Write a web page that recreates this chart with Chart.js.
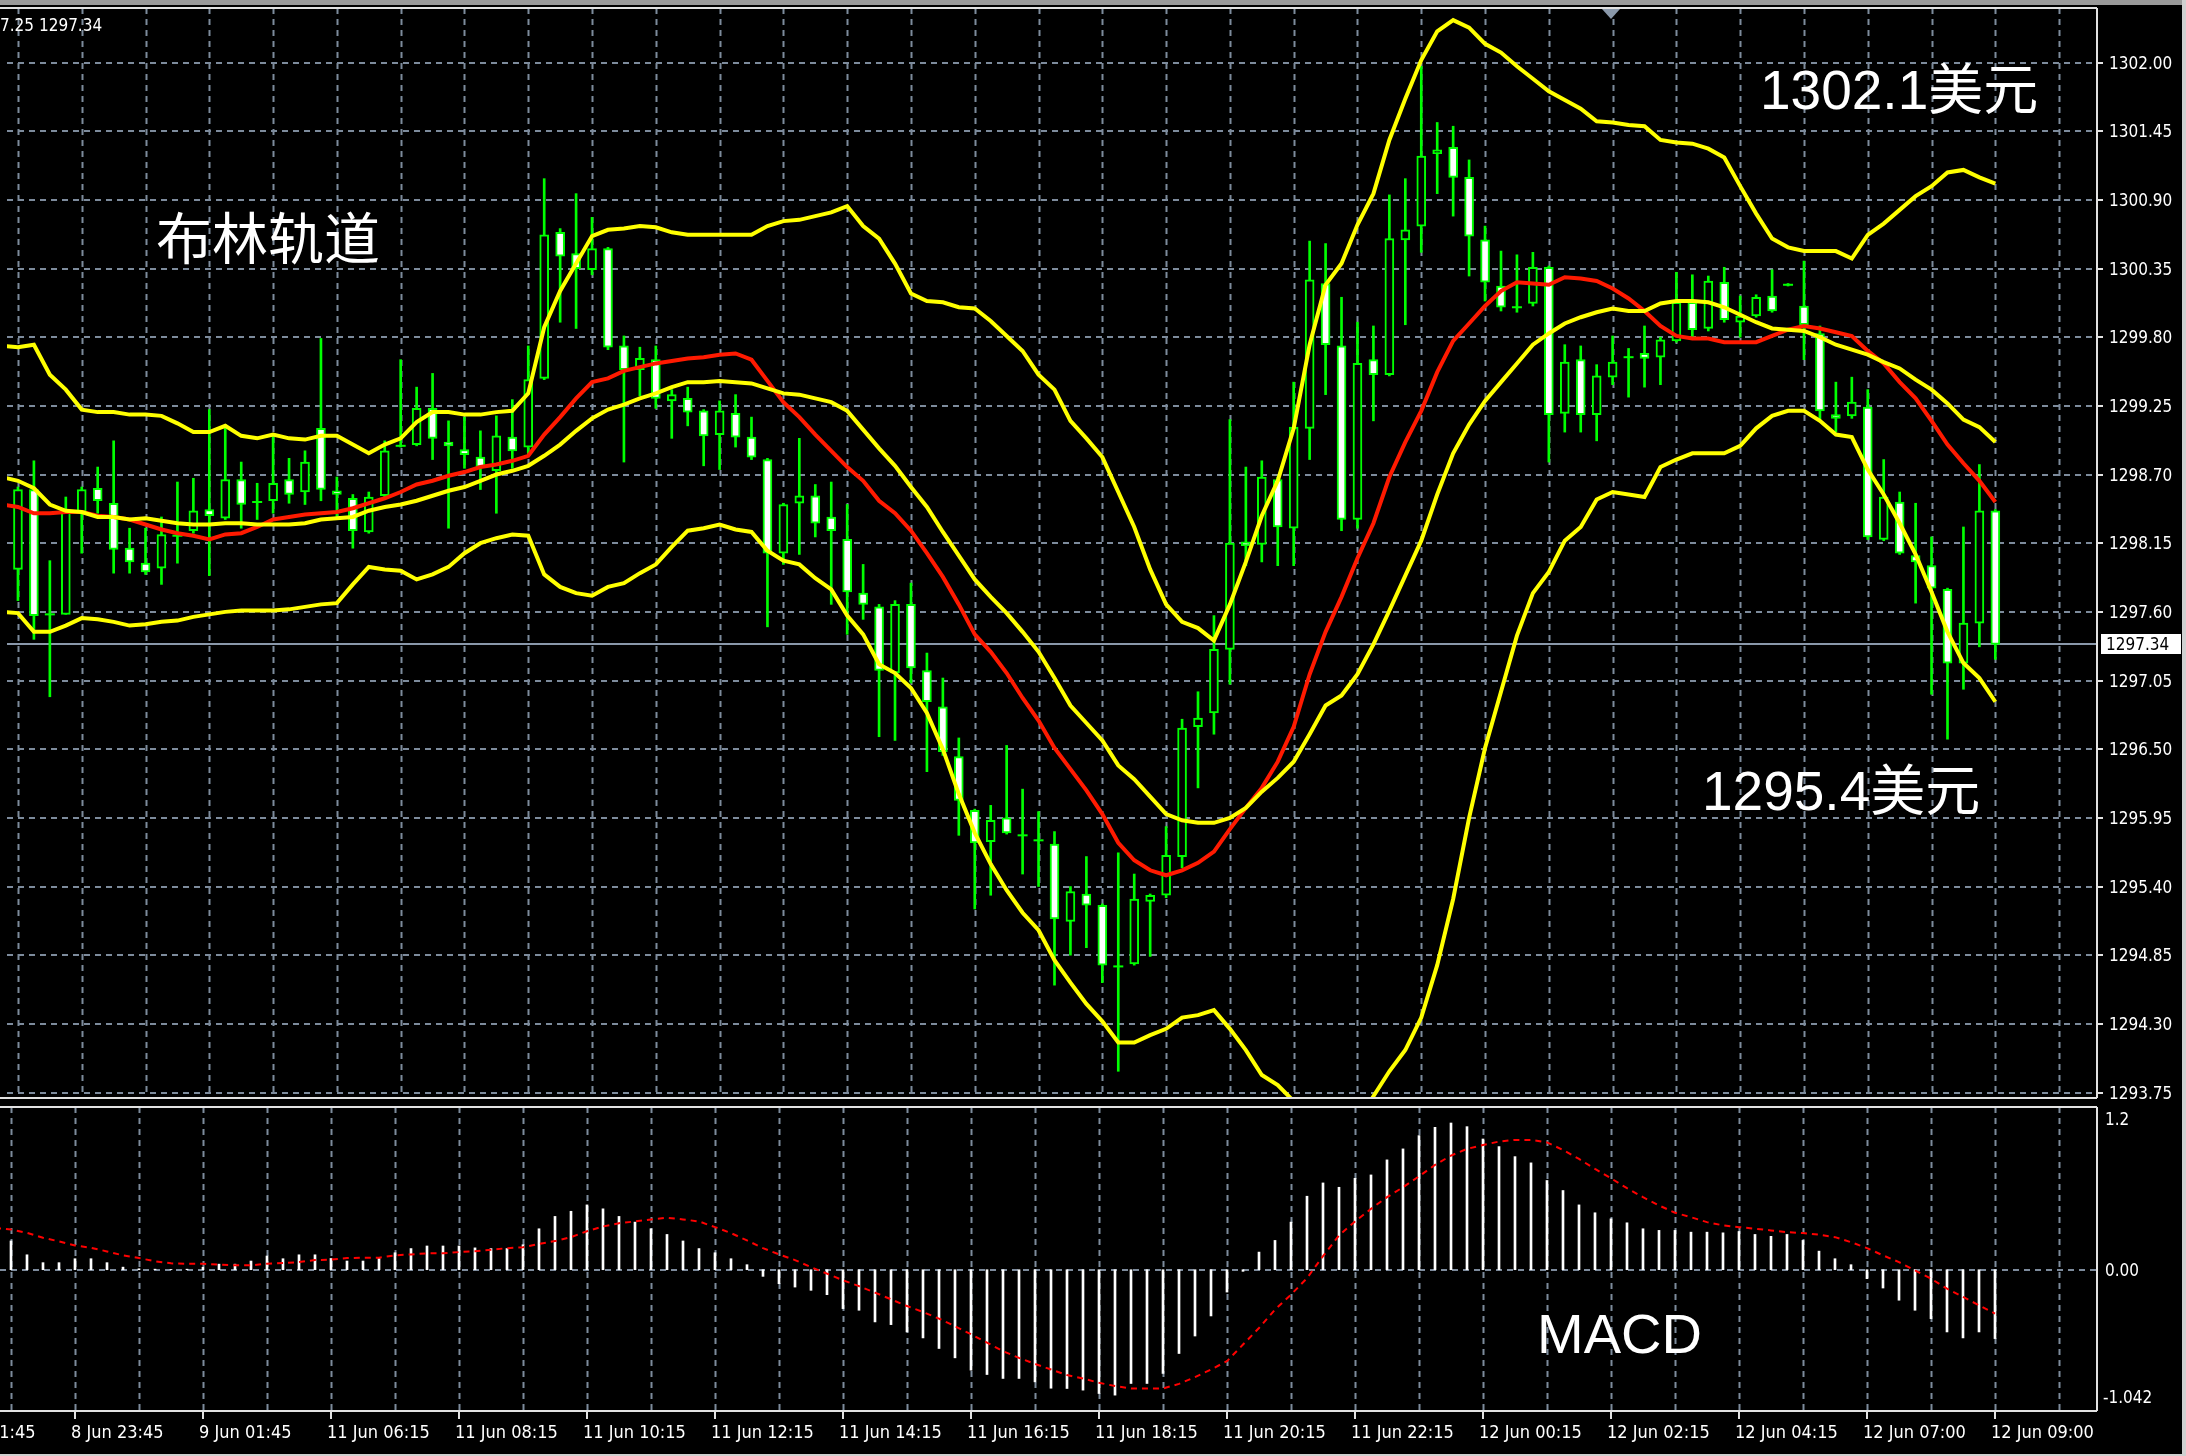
<!DOCTYPE html>
<html>
<head>
<meta charset="utf-8">
<script src="https://cdn.jsdelivr.net/npm/chart.js@4.4.1/dist/chart.umd.min.js"></script>
<style>
  html, body { margin: 0; padding: 0; background: #000; }
  #wrap { position: relative; width: 2186px; height: 1456px; background: #000; overflow: hidden; }
  #main { position: absolute; left: 0; top: 0; }
  #macd { position: absolute; left: 0; top: 1105px; }
</style>
</head>
<body>
<div id="wrap">
  <canvas id="main" width="2186" height="1105"></canvas>
  <canvas id="macd" width="2186" height="351"></canvas>
</div>
<script>
// XAUUSD M15 - candles, Bollinger bands and MACD (MT4 look)
// all series start at bar -1 (just left of the visible window)
const firstBar = -1;

const opens = [1298.01,
  1297.94,1298.58,1297.58,1297.58,1298.40,1298.59,1298.47,1298.11,1297.99,1297.95,
  1298.21,1298.25,1298.42,1298.35,1298.66,1298.48,1298.49,1298.66,1298.56,1299.07,
  1298.57,1298.51,1298.24,1298.53,1298.93,1298.94,1299.23,1298.96,1298.90,1298.84,
  1298.73,1299.00,1298.92,1299.47,1300.64,1300.47,1300.34,1300.51,1299.73,1299.54,
  1299.62,1299.29,1299.31,1299.21,1299.02,1299.19,1299.00,1298.82,1298.07,1298.47,
  1298.53,1298.36,1298.18,1297.75,1297.64,1297.11,1297.66,1297.13,1296.84,1296.44,
  1296.01,1295.76,1295.95,1295.81,1295.77,1295.74,1295.12,1295.34,1295.25,1294.76,
  1294.78,1295.28,1295.33,1295.64,1296.68,1296.79,1297.30,1298.16,1298.14,1298.66,
  1298.27,1299.07,1300.23,1299.73,1298.34,1299.62,1299.50,1300.58,1300.69,1301.27,
  1301.32,1301.08,1300.58,1300.21,1300.04,1300.07,1300.36,1299.19,1299.62,1299.18,
  1299.48,1299.64,1299.67,1299.64,1299.77,1300.08,1299.87,1300.24,1299.92,1299.97,
  1300.13,1300.22,1300.05,1299.83,1299.18,1299.17,1299.24,1298.18,1298.48,1298.05,
  1297.97,1297.78,1297.19,1297.51,1298.41];

const highs = [1298.95,
  1298.60,1298.81,1298.01,1298.52,1298.60,1298.76,1298.97,1298.27,1298.27,1298.36,
  1298.64,1298.67,1299.22,1299.10,1298.80,1298.63,1299.02,1298.83,1298.89,1299.79,
  1298.68,1298.54,1298.56,1298.97,1299.62,1299.40,1299.51,1299.13,1299.16,1299.05,
  1299.17,1299.30,1299.73,1301.07,1300.67,1300.95,1300.76,1300.52,1299.81,1299.72,
  1299.73,1299.38,1299.40,1299.22,1299.29,1299.34,1299.16,1298.83,1298.47,1298.99,
  1298.62,1298.64,1298.46,1297.98,1297.66,1297.69,1297.83,1297.27,1297.07,1296.59,
  1296.02,1296.05,1296.53,1296.18,1296.00,1295.84,1295.40,1295.64,1295.26,1295.67,
  1295.50,1295.34,1295.88,1296.74,1296.96,1297.57,1299.14,1298.76,1298.81,1298.68,
  1299.44,1300.57,1300.55,1300.12,1299.92,1299.89,1300.94,1301.07,1301.97,1301.52,
  1301.49,1301.22,1300.69,1300.49,1300.46,1300.48,1300.37,1299.74,1299.73,1299.58,
  1299.81,1299.71,1299.89,1299.80,1300.32,1300.30,1300.29,1300.36,1300.13,1300.14,
  1300.34,1300.23,1300.41,1299.89,1299.44,1299.48,1299.38,1298.82,1298.56,1298.47,
  1298.20,1297.79,1298.28,1298.78,1298.42];

const lows = [1297.95,
  1297.69,1297.38,1296.92,1297.58,1298.07,1298.39,1297.91,1297.91,1297.90,1297.82,
  1297.99,1298.23,1297.89,1298.34,1298.27,1298.34,1298.39,1298.47,1298.46,1298.49,
  1298.36,1298.11,1298.23,1298.52,1298.92,1298.93,1298.82,1298.27,1298.75,1298.58,
  1298.39,1298.75,1298.87,1299.46,1299.92,1299.87,1300.30,1299.70,1298.80,1299.33,
  1299.23,1298.99,1299.09,1298.77,1298.74,1298.92,1298.82,1297.48,1297.98,1298.06,
  1298.20,1297.66,1297.42,1297.54,1296.60,1296.57,1297.03,1296.32,1296.45,1295.81,
  1295.22,1295.33,1295.82,1295.50,1295.40,1294.61,1294.85,1294.91,1294.63,1293.92,
  1294.77,1294.84,1295.31,1295.55,1296.19,1296.62,1297.02,1297.97,1298.00,1297.97,
  1297.97,1298.82,1299.34,1298.25,1298.27,1299.13,1299.49,1299.90,1300.48,1300.95,
  1300.77,1300.29,1300.09,1300.01,1300.00,1300.05,1298.80,1299.04,1299.04,1298.97,
  1299.42,1299.32,1299.40,1299.42,1299.76,1299.80,1299.85,1299.92,1299.80,1299.96,
  1300.00,1300.21,1299.62,1299.14,1299.04,1299.15,1298.18,1298.17,1298.06,1297.67,
  1296.94,1296.58,1296.98,1297.32,1297.22];

const closes = [1298.89,
  1298.58,1297.57,1297.58,1298.40,1298.58,1298.49,1298.10,1298.00,1297.92,1298.22,
  1298.21,1298.41,1298.37,1298.66,1298.46,1298.48,1298.63,1298.54,1298.80,1298.58,
  1298.54,1298.25,1298.52,1298.89,1298.93,1299.23,1298.99,1298.93,1298.86,1298.76,
  1299.01,1298.89,1299.46,1300.62,1300.45,1300.35,1300.51,1299.72,1299.54,1299.63,
  1299.31,1299.34,1299.20,1299.01,1299.21,1299.00,1298.84,1298.07,1298.46,1298.53,
  1298.31,1298.25,1297.76,1297.66,1297.13,1297.66,1297.15,1296.88,1296.48,1296.09,
  1295.75,1295.93,1295.83,1295.81,1295.77,1295.14,1295.36,1295.25,1294.77,1294.76,
  1295.30,1295.33,1295.65,1296.67,1296.75,1297.30,1298.15,1298.13,1298.68,1298.28,
  1299.08,1300.26,1299.74,1298.34,1299.59,1299.50,1300.59,1300.66,1301.25,1301.30,
  1301.08,1300.61,1300.24,1300.04,1300.04,1300.36,1299.18,1299.60,1299.18,1299.49,
  1299.60,1299.64,1299.63,1299.78,1300.08,1299.86,1300.25,1299.94,1299.97,1300.12,
  1300.01,1300.22,1299.90,1299.21,1299.15,1299.28,1298.20,1298.52,1298.07,1298.00,
  1297.79,1297.19,1297.51,1298.41,1297.34];

const upperBand = [1299.73,
  1299.72,1299.74,1299.50,1299.38,1299.22,1299.20,1299.20,1299.18,1299.18,1299.17,
  1299.11,1299.04,1299.04,1299.09,1299.01,1298.99,1299.02,1298.99,1298.98,1299.01,
  1299.01,1298.94,1298.87,1298.94,1298.99,1299.12,1299.20,1299.20,1299.18,1299.18,
  1299.20,1299.21,1299.35,1299.88,1300.17,1300.39,1300.61,1300.66,1300.67,1300.69,
  1300.68,1300.64,1300.62,1300.62,1300.62,1300.62,1300.62,1300.69,1300.73,1300.74,
  1300.77,1300.80,1300.85,1300.69,1300.59,1300.39,1300.15,1300.09,1300.08,1300.04,
  1300.03,1299.93,1299.81,1299.69,1299.50,1299.38,1299.13,1298.99,1298.84,1298.56,
  1298.28,1297.94,1297.66,1297.52,1297.47,1297.37,1297.66,1298.00,1298.37,1298.65,
  1299.07,1299.74,1300.22,1300.39,1300.70,1300.95,1301.38,1301.71,1302.02,1302.25,
  1302.34,1302.28,1302.15,1302.08,1301.97,1301.87,1301.77,1301.70,1301.63,1301.53,
  1301.52,1301.50,1301.49,1301.38,1301.36,1301.35,1301.31,1301.24,1301.01,1300.79,
  1300.59,1300.52,1300.49,1300.49,1300.49,1300.43,1300.62,1300.71,1300.82,1300.93,
  1301.01,1301.12,1301.14,1301.08,1301.03];

const middleBand = [1298.68,
  1298.65,1298.59,1298.46,1298.41,1298.40,1298.36,1298.36,1298.34,1298.35,1298.33,
  1298.31,1298.30,1298.30,1298.31,1298.31,1298.30,1298.30,1298.30,1298.31,1298.34,
  1298.35,1298.36,1298.41,1298.44,1298.46,1298.49,1298.53,1298.57,1298.60,1298.65,
  1298.70,1298.73,1298.77,1298.85,1298.94,1299.05,1299.15,1299.22,1299.26,1299.31,
  1299.35,1299.40,1299.44,1299.44,1299.45,1299.44,1299.43,1299.39,1299.35,1299.34,
  1299.31,1299.28,1299.21,1299.06,1298.91,1298.77,1298.60,1298.44,1298.24,1298.05,
  1297.86,1297.72,1297.59,1297.44,1297.28,1297.07,1296.85,1296.71,1296.57,1296.37,
  1296.26,1296.12,1295.98,1295.93,1295.91,1295.91,1295.95,1296.03,1296.16,1296.27,
  1296.40,1296.62,1296.85,1296.93,1297.10,1297.34,1297.61,1297.89,1298.17,1298.54,
  1298.87,1299.10,1299.29,1299.44,1299.59,1299.74,1299.83,1299.91,1299.96,1300.00,
  1300.03,1300.01,1300.01,1300.07,1300.09,1300.09,1300.08,1300.04,1299.98,1299.92,
  1299.87,1299.86,1299.85,1299.80,1299.74,1299.70,1299.66,1299.60,1299.55,1299.46,
  1299.38,1299.27,1299.14,1299.08,1298.96];

const lowerBand = [1297.60,
  1297.59,1297.44,1297.44,1297.49,1297.55,1297.54,1297.52,1297.49,1297.50,1297.52,
  1297.53,1297.56,1297.58,1297.60,1297.61,1297.61,1297.61,1297.62,1297.64,1297.66,
  1297.67,1297.82,1297.96,1297.94,1297.93,1297.86,1297.90,1297.96,1298.07,1298.15,
  1298.19,1298.22,1298.21,1297.90,1297.80,1297.75,1297.73,1297.80,1297.83,1297.91,
  1297.98,1298.12,1298.25,1298.27,1298.30,1298.26,1298.24,1298.09,1298.01,1297.98,
  1297.87,1297.78,1297.57,1297.42,1297.18,1297.11,1296.99,1296.79,1296.50,1296.14,
  1295.83,1295.58,1295.37,1295.19,1295.05,1294.81,1294.63,1294.46,1294.32,1294.15,
  1294.15,1294.21,1294.26,1294.35,1294.37,1294.41,1294.26,1294.09,1293.89,1293.81,
  1293.68,1293.52,1293.40,1293.38,1293.52,1293.72,1293.92,1294.09,1294.35,1294.77,
  1295.30,1295.95,1296.51,1296.96,1297.41,1297.75,1297.92,1298.17,1298.28,1298.50,
  1298.56,1298.54,1298.52,1298.76,1298.82,1298.87,1298.87,1298.87,1298.93,1299.07,
  1299.17,1299.21,1299.21,1299.13,1299.02,1299.00,1298.74,1298.54,1298.31,1298.06,
  1297.76,1297.44,1297.19,1297.07,1296.88];

const maLine = [1298.46,
  1298.44,1298.39,1298.39,1298.40,1298.40,1298.37,1298.36,1298.34,1298.30,1298.26,
  1298.23,1298.21,1298.18,1298.22,1298.23,1298.28,1298.34,1298.36,1298.38,1298.39,
  1298.40,1298.43,1298.47,1298.51,1298.56,1298.62,1298.65,1298.69,1298.72,1298.76,
  1298.78,1298.81,1298.85,1299.02,1299.16,1299.31,1299.44,1299.47,1299.53,1299.56,
  1299.59,1299.61,1299.63,1299.64,1299.66,1299.67,1299.62,1299.45,1299.28,1299.16,
  1299.02,1298.89,1298.76,1298.65,1298.49,1298.39,1298.25,1298.07,1297.88,1297.66,
  1297.42,1297.28,1297.11,1296.91,1296.73,1296.51,1296.34,1296.17,1295.98,1295.75,
  1295.61,1295.53,1295.49,1295.53,1295.59,1295.68,1295.86,1296.03,1296.19,1296.40,
  1296.68,1297.10,1297.44,1297.72,1298.03,1298.31,1298.68,1298.96,1299.21,1299.52,
  1299.77,1299.91,1300.05,1300.17,1300.24,1300.23,1300.22,1300.28,1300.27,1300.25,
  1300.19,1300.11,1300.01,1299.89,1299.81,1299.79,1299.79,1299.76,1299.76,1299.76,
  1299.81,1299.86,1299.89,1299.87,1299.84,1299.81,1299.69,1299.59,1299.44,1299.31,
  1299.13,1298.94,1298.79,1298.65,1298.48];

const macdHist = [0.230,
  0.212,0.110,0.052,0.052,0.081,0.081,0.052,0.019,0.007,0.004,
  0.002,0.004,0.018,0.041,0.041,0.064,0.101,0.081,0.110,0.110,
  0.083,0.064,0.064,0.083,0.125,0.156,0.175,0.175,0.175,0.161,
  0.156,0.156,0.184,0.302,0.393,0.431,0.478,0.449,0.393,0.351,
  0.302,0.260,0.212,0.156,0.125,0.081,0.037,-0.049,-0.103,-0.128,
  -0.152,-0.184,-0.287,-0.299,-0.385,-0.405,-0.459,-0.503,-0.581,-0.650,
  -0.741,-0.773,-0.802,-0.802,-0.827,-0.874,-0.876,-0.888,-0.913,-0.925,
  -0.839,-0.839,-0.765,-0.618,-0.489,-0.341,-0.165,-0.012,0.130,0.216,
  0.351,0.542,0.640,0.608,0.674,0.699,0.810,0.891,0.989,1.050,
  1.082,1.055,0.964,0.908,0.834,0.788,0.658,0.584,0.478,0.420,
  0.375,0.346,0.302,0.290,0.290,0.277,0.277,0.272,0.282,0.260,
  0.246,0.260,0.216,0.137,0.081,0.037,-0.066,-0.135,-0.225,-0.299,
  -0.361,-0.459,-0.503,-0.459,-0.508];

const macdSignal = [0.308,
  0.297,0.272,0.236,0.209,0.179,0.162,0.135,0.106,0.086,0.062,
  0.047,0.044,0.044,0.037,0.032,0.032,0.044,0.049,0.056,0.071,
  0.074,0.086,0.088,0.088,0.106,0.113,0.121,0.121,0.130,0.137,
  0.147,0.159,0.165,0.191,0.211,0.240,0.284,0.319,0.343,0.356,
  0.371,0.383,0.371,0.356,0.314,0.270,0.216,0.159,0.113,0.071,
  0.019,-0.029,-0.078,-0.121,-0.169,-0.218,-0.268,-0.312,-0.361,-0.417,
  -0.476,-0.537,-0.601,-0.650,-0.695,-0.736,-0.777,-0.802,-0.834,-0.858,
  -0.876,-0.876,-0.876,-0.842,-0.792,-0.736,-0.674,-0.552,-0.430,-0.294,
  -0.184,-0.062,0.100,0.253,0.356,0.449,0.535,0.608,0.689,0.773,
  0.842,0.891,0.920,0.945,0.957,0.957,0.939,0.883,0.817,0.743,
  0.674,0.601,0.535,0.474,0.420,0.387,0.351,0.327,0.314,0.302,
  0.290,0.277,0.270,0.258,0.240,0.203,0.159,0.106,0.056,-0.005,
  -0.066,-0.140,-0.201,-0.262,-0.324];

const priceTicks = [1302.00, 1301.45, 1300.90, 1300.35, 1299.80, 1299.25, 1298.70, 1298.15,
  1297.60, 1297.05, 1296.50, 1295.95, 1295.40, 1294.85, 1294.30, 1293.75];
const timeLabelBars = [-4, 4, 12, 20, 28, 36, 44, 52, 60, 68, 76, 84, 92, 100, 108, 116, 124];
const timeLabels = ['8 Jun 21:45', '8 Jun 23:45', '9 Jun 01:45', '11 Jun 06:15', '11 Jun 08:15',
  '11 Jun 10:15', '11 Jun 12:15', '11 Jun 14:15', '11 Jun 16:15', '11 Jun 18:15', '11 Jun 20:15',
  '11 Jun 22:15', '12 Jun 00:15', '12 Jun 02:15', '12 Jun 04:15', '12 Jun 07:00', '12 Jun 09:00'];
const macdLabels = ['1.2', '0.00', '-1.042'];
const lastPrice = 1297.34;

// visible window (bars) and value ranges of the two panes
const viewFrom = -0.6875, viewTo = 130.375;
const priceMin = 1293.706, priceMax = 1302.437;
const macdMin = -1.042, macdMax = 1.2;

const gridColor = '#7d8b9c';
const axisFont = '18px "DejaVu Sans"';
const priceSx = 0.85;   // MT4 scale font is narrow
const timeSx = 0.9;

const pts = arr => arr.map((v, i) => ({ x: firstBar + i, y: v }));
const bodies = opens.map((o, i) => ({ x: firstBar + i, y: [Math.min(o, closes[i]), Math.max(o, closes[i])] }));
const bodyColors = opens.map((o, i) => closes[i] < o ? '#ffffff' : '#000000');
const wicks = lows.map((l, i) => ({ x: firstBar + i, y: [l, highs[i]] }));
const dojis = opens.map((o, i) => ({ x: firstBar + i, y: closes[i], d: Math.abs(o - closes[i]) }))
  .filter(p => p.d < 0.025);

function seg(ctx, x1, y1, x2, y2) {
  ctx.beginPath(); ctx.moveTo(x1, y1); ctx.lineTo(x2, y2); ctx.stroke();
}

function text(ctx, str, x, y, font, color, sx) {
  ctx.save();
  ctx.font = font;
  ctx.fillStyle = color || '#ffffff';
  ctx.textAlign = 'left';
  ctx.textBaseline = 'middle';
  ctx.translate(x, y);
  ctx.scale(sx || 1, 1);
  ctx.fillText(str, 0, 0);
  ctx.restore();
}

function vGrid(chart) {
  const { ctx, chartArea: a, scales: { x } } = chart;
  for (let b = 0; b <= viewTo; b += 4) {
    const px = Math.round(x.getPixelForValue(b)) + 0.5;
    seg(ctx, px, a.top, px, a.bottom);
  }
}

const mainFrame = {
  id: 'mainFrame',
  beforeDatasetsDraw(chart) {
    const { ctx, chartArea: a, scales: { y } } = chart;
    ctx.save();
    ctx.strokeStyle = gridColor;
    ctx.lineWidth = 2;
    ctx.setLineDash([6, 5]);
    priceTicks.forEach(p => {
      const py = Math.round(y.getPixelForValue(p));
      seg(ctx, a.left, py, a.right, py);
    });
    vGrid(chart);
    ctx.setLineDash([]);
    ctx.strokeStyle = '#8a98aa';
    const ly = Math.round(y.getPixelForValue(lastPrice));
    seg(ctx, a.left, ly, a.right, ly);
    ctx.restore();
  },
  afterDraw(chart) {
    const { ctx, chartArea: a, scales: { x, y }, width } = chart;
    ctx.save();
    // window edges
    ctx.fillStyle = '#9a9a9a';
    ctx.fillRect(0, 0, width, 5);
    ctx.fillStyle = '#d0d0d0';
    ctx.fillRect(width - 4, 0, 4, chart.height);
    // pane border
    ctx.strokeStyle = '#e2e2e2';
    ctx.lineWidth = 2;
    seg(ctx, 0, a.top, a.right, a.top);
    seg(ctx, a.right, a.top, a.right, a.bottom);
    seg(ctx, 0, a.bottom, a.right, a.bottom);
    // price scale
    priceTicks.forEach(p => {
      const py = Math.round(y.getPixelForValue(p));
      seg(ctx, a.right, py, a.right + 6, py);
      text(ctx, p.toFixed(2), a.right + 12, py + 1, axisFont, '#ffffff', priceSx);
    });
    const ly = Math.round(y.getPixelForValue(lastPrice));
    ctx.fillStyle = '#ffffff';
    ctx.fillRect(a.right + 4, ly - 10, 80, 20);
    text(ctx, lastPrice.toFixed(2), a.right + 9, ly + 1, axisFont, '#000000', priceSx);
    // chart shift marker
    ctx.fillStyle = '#8a98aa';
    ctx.beginPath();
    ctx.moveTo(1602, 9); ctx.lineTo(1620, 9); ctx.lineTo(1611, 19); ctx.closePath();
    ctx.fill();
    // top-left quote line
    text(ctx, '7.25 1297.34', 0, 26, axisFont, '#ffffff', priceSx);
    // annotations
    text(ctx, '布林轨道', 156, 238, '56px "Noto Sans CJK SC"', '#ffffff');
    text(ctx, '1302.1美元', 1760, 94, '55px "Liberation Sans", "Noto Sans CJK SC"', '#ffffff');
    text(ctx, '1295.4美元', 1702, 795, '55px "Liberation Sans", "Noto Sans CJK SC"', '#ffffff');
    ctx.restore();
  }
};

const macdFrame = {
  id: 'macdFrame',
  beforeDatasetsDraw(chart) {
    const { ctx, chartArea: a, scales: { y } } = chart;
    ctx.save();
    ctx.strokeStyle = gridColor;
    ctx.lineWidth = 2;
    ctx.setLineDash([6, 5]);
    const zy = Math.round(y.getPixelForValue(0));
    seg(ctx, a.left, zy, a.right, zy);
    vGrid(chart);
    ctx.restore();
  },
  afterDraw(chart) {
    const { ctx, chartArea: a, scales: { x, y }, width, height } = chart;
    ctx.save();
    ctx.fillStyle = '#d0d0d0';
    ctx.fillRect(width - 4, 0, 4, height);
    ctx.fillRect(0, height - 2, width, 2);
    ctx.strokeStyle = '#e2e2e2';
    ctx.lineWidth = 2;
    seg(ctx, 0, a.top, a.right, a.top);
    seg(ctx, a.right, a.top, a.right, a.bottom);
    seg(ctx, 0, a.bottom, a.right, a.bottom);
    // indicator scale
    text(ctx, macdLabels[0], a.right + 8, a.top + 13, axisFont, '#ffffff', priceSx);
    text(ctx, macdLabels[1], a.right + 8, Math.round(y.getPixelForValue(0)) + 1, axisFont, '#ffffff', priceSx);
    text(ctx, macdLabels[2], a.right + 6, a.bottom - 13, axisFont, '#ffffff', priceSx);
    // time scale
    timeLabelBars.forEach((b, i) => {
      const px = Math.round(x.getPixelForValue(b));
      seg(ctx, px, a.bottom, px, a.bottom + 8);
      text(ctx, timeLabels[i], px - 4, a.bottom + 22, axisFont, '#ffffff', timeSx);
    });
    text(ctx, 'MACD', 1537, 233, '56px "Liberation Sans"', '#ffffff');
    ctx.restore();
  }
};

const baseOptions = (padding, yMin, yMax) => ({
  responsive: false,
  animation: false,
  layout: { padding },
  plugins: { legend: { display: false }, tooltip: { enabled: false } },
  scales: {
    x: { type: 'linear', min: viewFrom, max: viewTo, offset: false, display: false },
    y: { type: 'linear', min: yMin, max: yMax, display: false }
  }
});

const bandLine = (label, values, color) => ({
  type: 'line', label, data: pts(values), borderColor: color, borderWidth: 4,
  pointRadius: 0, tension: 0, fill: false, order: 0
});

new Chart(document.getElementById('main'), {
  type: 'line',
  data: {
    datasets: [
      bandLine('上轨', upperBand, '#ffff00'),
      bandLine('中轨', middleBand, '#ffff00'),
      bandLine('下轨', lowerBand, '#ffff00'),
      bandLine('均线', maLine, '#ff1a00'),
      {
        type: 'line', label: '十字星', data: dojis, showLine: false, pointStyle: 'line',
        pointRadius: 5, pointBorderWidth: 2, pointBorderColor: '#00ff00', order: 1
      },
      {
        type: 'bar', label: '实体', data: bodies, backgroundColor: bodyColors, borderColor: '#00ff00',
        borderWidth: 2, borderSkipped: false, barThickness: 9, maxBarThickness: 9, grouped: false, order: 2
      },
      {
        type: 'bar', label: '影线', data: wicks, backgroundColor: '#00ff00',
        barThickness: 2, maxBarThickness: 2, grouped: false, order: 3
      }
    ]
  },
  options: baseOptions({ left: 0, right: 89, top: 8, bottom: 3 }, priceMin, priceMax),
  plugins: [mainFrame]
});

new Chart(document.getElementById('macd'), {
  type: 'bar',
  data: {
    datasets: [
      {
        type: 'line', label: 'Signal', data: pts(macdSignal), borderColor: '#ff0000', borderWidth: 2,
        borderDash: [6, 5], pointRadius: 0, tension: 0, fill: false, order: 0
      },
      {
        type: 'bar', label: 'MACD', data: pts(macdHist), backgroundColor: '#ffffff',
        barThickness: 2, maxBarThickness: 2, grouped: false, order: 1
      }
    ]
  },
  options: baseOptions({ left: 0, right: 89, top: 2, bottom: 45 }, macdMin, macdMax),
  plugins: [macdFrame]
});
</script>
</body>
</html>
